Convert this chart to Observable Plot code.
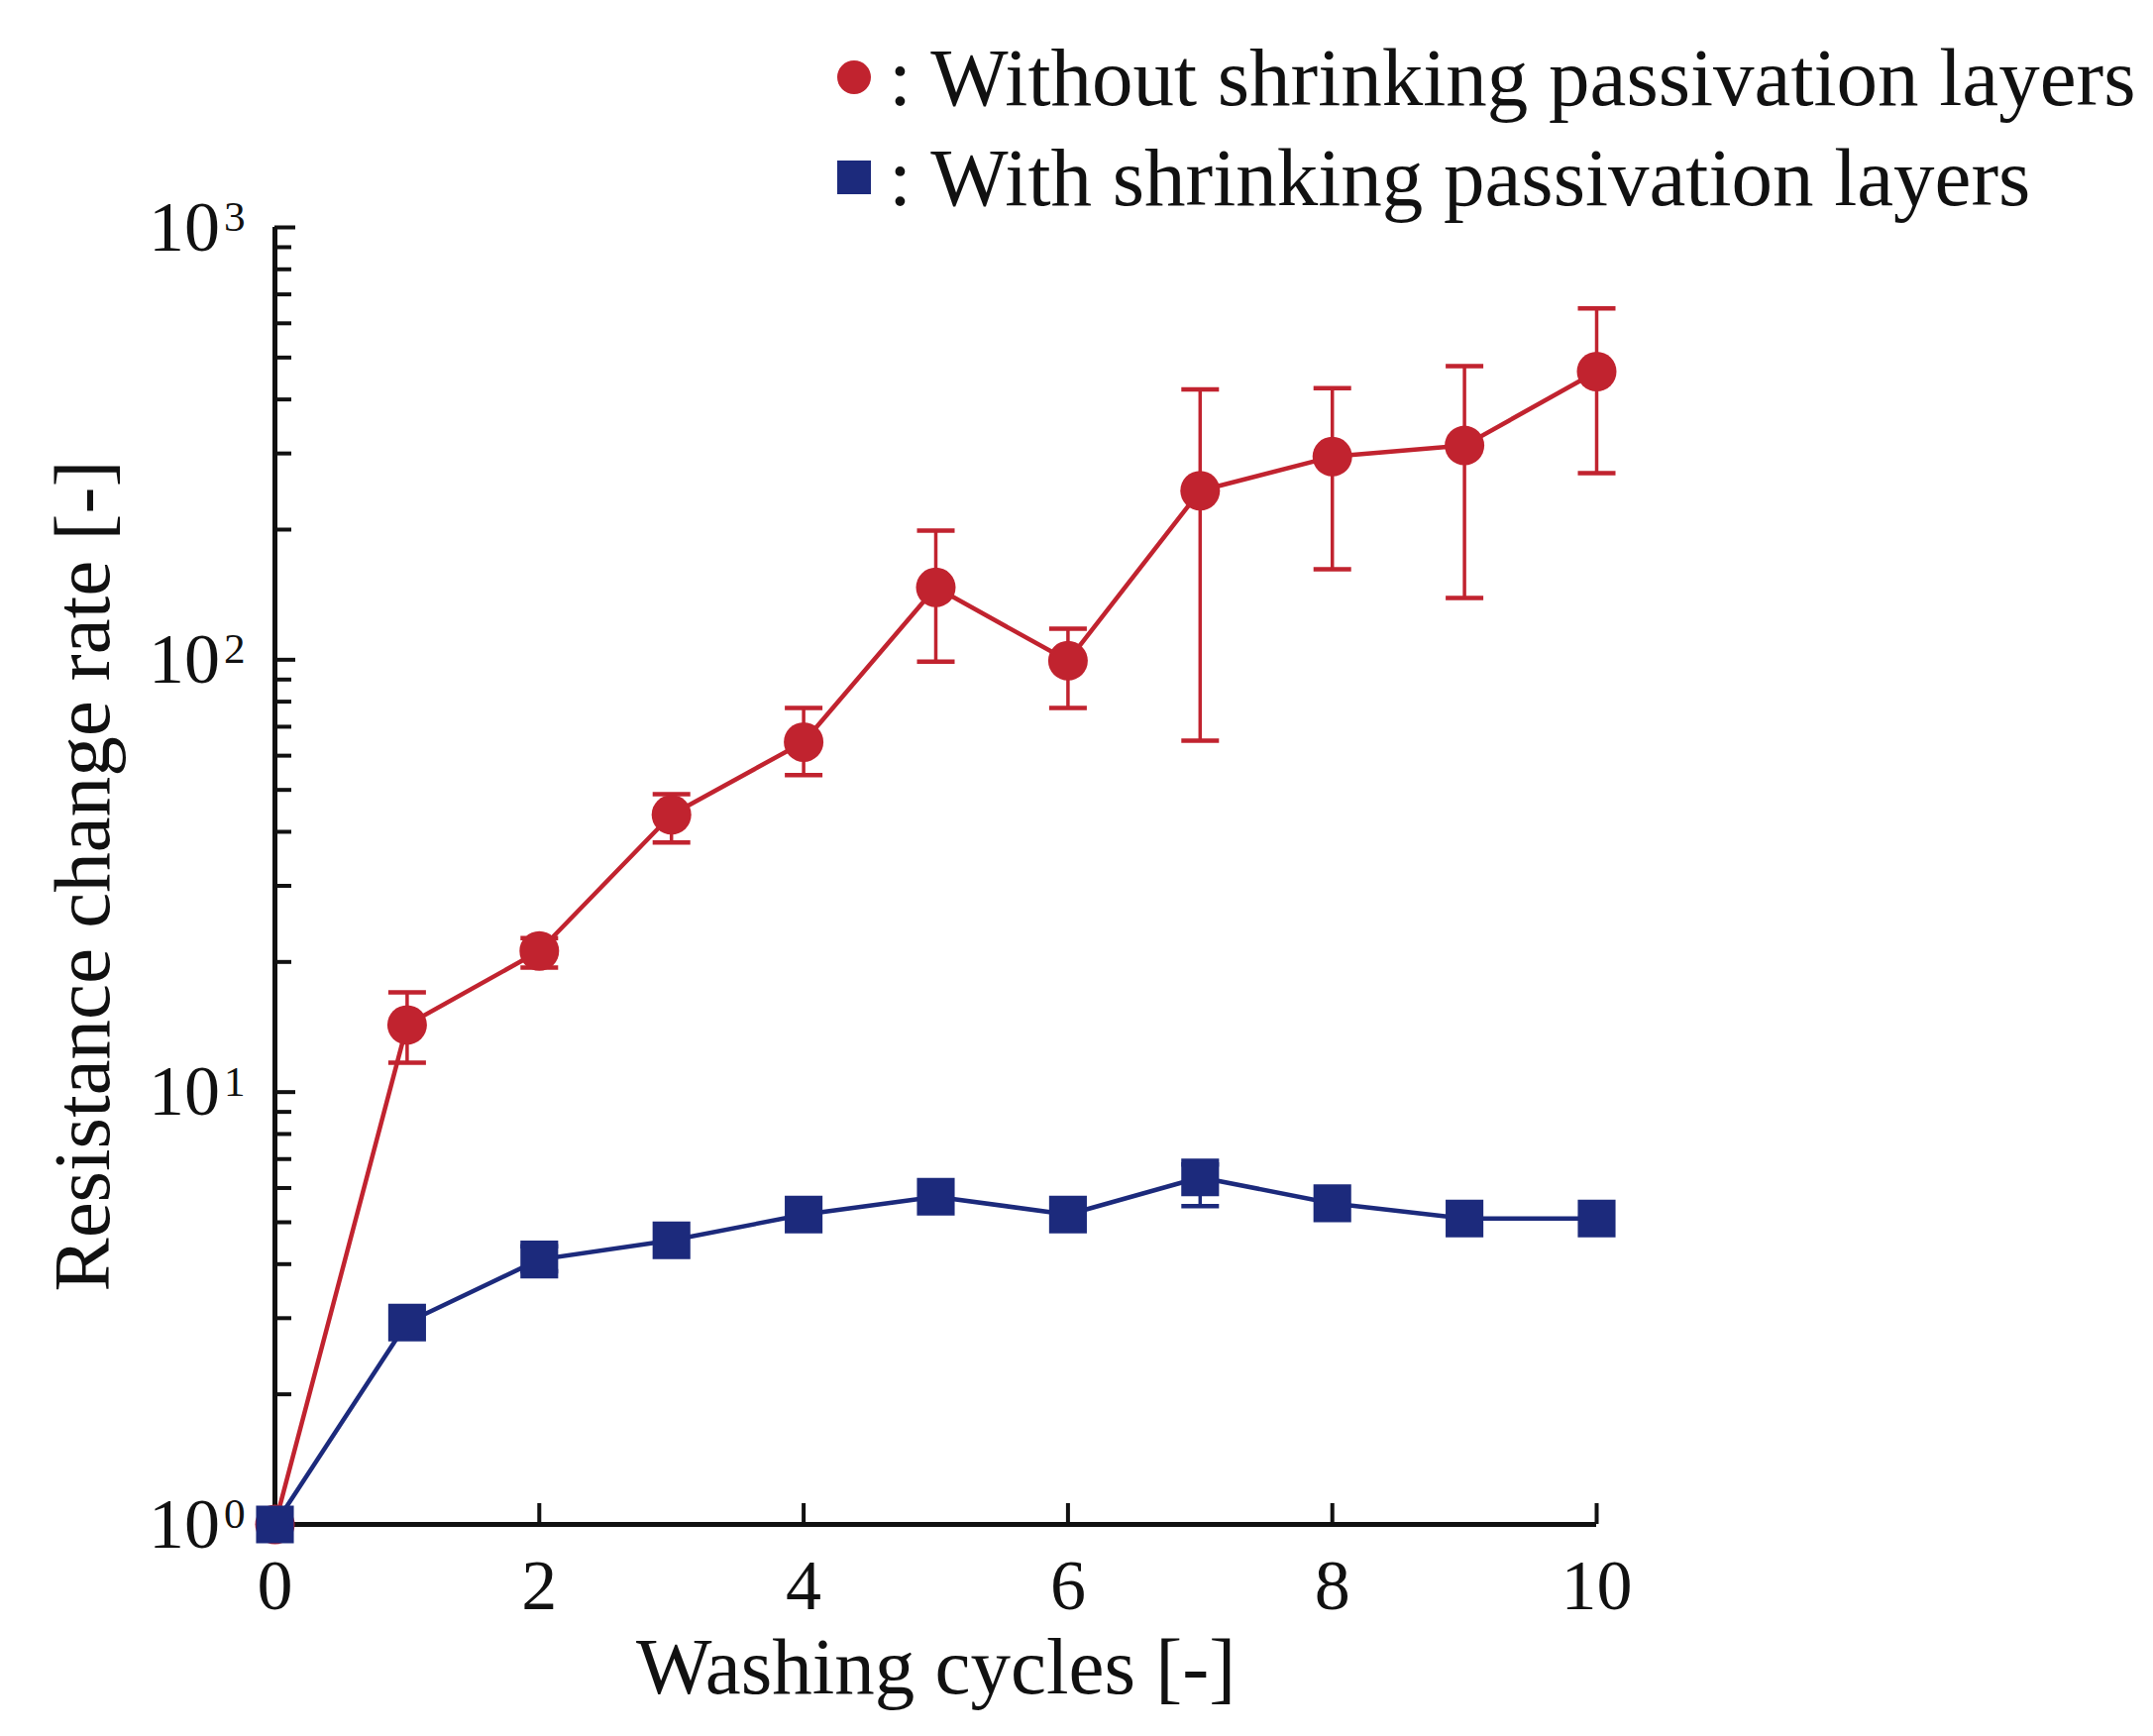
<!DOCTYPE html>
<html>
<head>
<meta charset="utf-8">
<script src="https://cdn.jsdelivr.net/npm/d3@7"></script>
<script src="https://cdn.jsdelivr.net/npm/@observablehq/plot@0.6"></script>
<style>
  html, body { margin: 0; padding: 0; background: #ffffff; }
  #wrap { position: relative; width: 2173px; height: 1752px; font-family: "Liberation Serif", serif; }
  #legend { position: relative; width: 2173px; height: 150px; z-index: 2; }
  .row { position: absolute; left: 845px; height: 84px; display: flex; align-items: center; font-size: 83px; color: #111; white-space: nowrap; }
  .sym { display: inline-block; width: 34px; height: 34px; margin-right: 18px; }
  #chart { position: relative; z-index: 1; }
</style>
</head>
<body>
<div id="wrap">
  <div id="legend">
    <div class="row" style="top:36px"><span class="sym" style="background:#c1232f;border-radius:50%"></span><span>: Without shrinking passivation layers</span></div>
    <div class="row" style="top:137px"><span class="sym" style="background:#1c2a7c"></span><span>: With shrinking passivation layers</span></div>
  </div>
  <div id="chart"></div>
</div>
<script>
// ---- data ----
const cycles = [0, 1, 2, 3, 4, 5, 6, 7, 8, 9, 10];
const withoutMean = [1, 14.3, 21.2, 43.8, 64.5, 147, 99.5, 246, 295, 313, 464];
const withoutLow  = [1, 11.7, 19.4, 37.8, 54.1, 99, 77.4, 65, 162, 139, 270];
const withoutHigh = [1, 17.0, 22.7, 48.9, 77.4, 199, 118, 422, 425, 478, 650];
const withMean = [1, 2.93, 4.10, 4.54, 5.21, 5.73, 5.21, 6.35, 5.53, 5.10, 5.10];
const withLow  = [1, 2.93, 3.85, 4.54, 5.21, 5.73, 5.21, 5.45, 5.53, 5.10, 5.10];
const withHigh = [1, 2.93, 4.40, 4.54, 5.21, 5.73, 5.21, 6.80, 5.53, 5.10, 5.10];
const xTicks = [0, 2, 4, 6, 8, 10];
const yMajor = [1, 10, 100, 1000];
const yMinor = [2,3,4,5,6,7,8,9,20,30,40,50,60,70,80,90,200,300,400,500,600,700,800,900];

const red = "#c1232f";
const blue = "#1c2a7c";

const without = cycles.map((c, i) => ({x: c, y: withoutMean[i], lo: withoutLow[i], hi: withoutHigh[i]}));
const withS = cycles.map((c, i) => ({x: c, y: withMean[i], lo: withLow[i], hi: withHigh[i]}));

const cap = {draw(ctx) { ctx.moveTo(-19, 0); ctx.lineTo(19, 0); }};
const supMap = {1: "0", 10: "1", 100: "2", 1000: "3"};

const plot = Plot.plot({
  width: 2173,
  height: 1602,
  marginLeft: 277,
  marginRight: 562,
  marginTop: 79,
  marginBottom: 214,
  style: {fontFamily: "Liberation Serif, serif", fontSize: "72px", color: "#111", background: "transparent", overflow: "visible"},
  x: {domain: [0, 10]},
  y: {type: "log", domain: [1, 1000]},
  marks: [
    // axis lines
    Plot.ruleX([0], {y1: 1, y2: 1000, stroke: "#111", strokeWidth: 5}),
    Plot.ruleY([1], {x1: 0, x2: 10, stroke: "#111", strokeWidth: 5}),
    // inward ticks
    Plot.axisX({ticks: xTicks, tickSize: -21, tickFormat: () => "", strokeWidth: 4, label: null}),
    Plot.axisX({ticks: xTicks, tickSize: 0, tickPadding: 34, fontSize: 72,
      label: "Washing cycles [-]", labelAnchor: "center", labelOffset: 170, labelArrow: "none"}),
    Plot.axisY({ticks: yMinor, tickSize: -17, tickFormat: () => "", strokeWidth: 4, label: null}),
    Plot.axisY({ticks: yMajor, tickSize: -21, tickFormat: () => "", strokeWidth: 4, label: null}),
    Plot.axisY({ticks: yMajor, tickSize: 0, tickPadding: 30, fontSize: 72,
      tickFormat: d => "10" + supMap[d],
      label: "Resistance change rate [-]", labelAnchor: "center", labelOffset: 225, labelArrow: "none"}),
    // red series
    Plot.ruleX(without, {x: "x", y1: "lo", y2: "hi", stroke: red, strokeWidth: 3.5}),
    Plot.dot(without, {x: "x", y: "hi", symbol: cap, r: 1, stroke: red, strokeWidth: 4.5}),
    Plot.dot(without, {x: "x", y: "lo", symbol: cap, r: 1, stroke: red, strokeWidth: 4.5}),
    Plot.line(without, {x: "x", y: "y", stroke: red, strokeWidth: 4.5}),
    Plot.dot(without, {x: "x", y: "y", r: 20, fill: red, stroke: "none"}),
    // blue series
    Plot.ruleX(withS, {x: "x", y1: "lo", y2: "hi", stroke: blue, strokeWidth: 3.5}),
    Plot.dot(withS.filter(d => d.hi > d.lo), {x: "x", y: "hi", symbol: cap, r: 1, stroke: blue, strokeWidth: 4.5}),
    Plot.dot(withS.filter(d => d.hi > d.lo), {x: "x", y: "lo", symbol: cap, r: 1, stroke: blue, strokeWidth: 4.5}),
    Plot.line(withS, {x: "x", y: "y", stroke: blue, strokeWidth: 4.5}),
    Plot.dot(withS, {x: "x", y: "y", r: 21.5, symbol: "square", fill: blue, stroke: "none"})
  ]
});
document.getElementById("chart").appendChild(plot);

// axis titles in a slightly larger size
plot.querySelectorAll('g[aria-label="x-axis label"] text, g[aria-label="y-axis label"] text').forEach(t => {
  t.setAttribute("font-size", "81");
  t.style.fontSize = "81px";
});

// superscript exponents on y tick labels
plot.querySelectorAll('g[aria-label="y-axis tick label"] text').forEach(t => {
  const s = t.textContent;
  if (s.length > 2 && s.startsWith("10")) {
    t.textContent = "10";
    const ts = document.createElementNS("http://www.w3.org/2000/svg", "tspan");
    ts.setAttribute("font-size", "0.6em");
    ts.setAttribute("dy", "-0.45em");
    ts.setAttribute("dx", "4");
    ts.textContent = s.slice(2);
    t.appendChild(ts);
  }
});
</script>
</body>
</html>
